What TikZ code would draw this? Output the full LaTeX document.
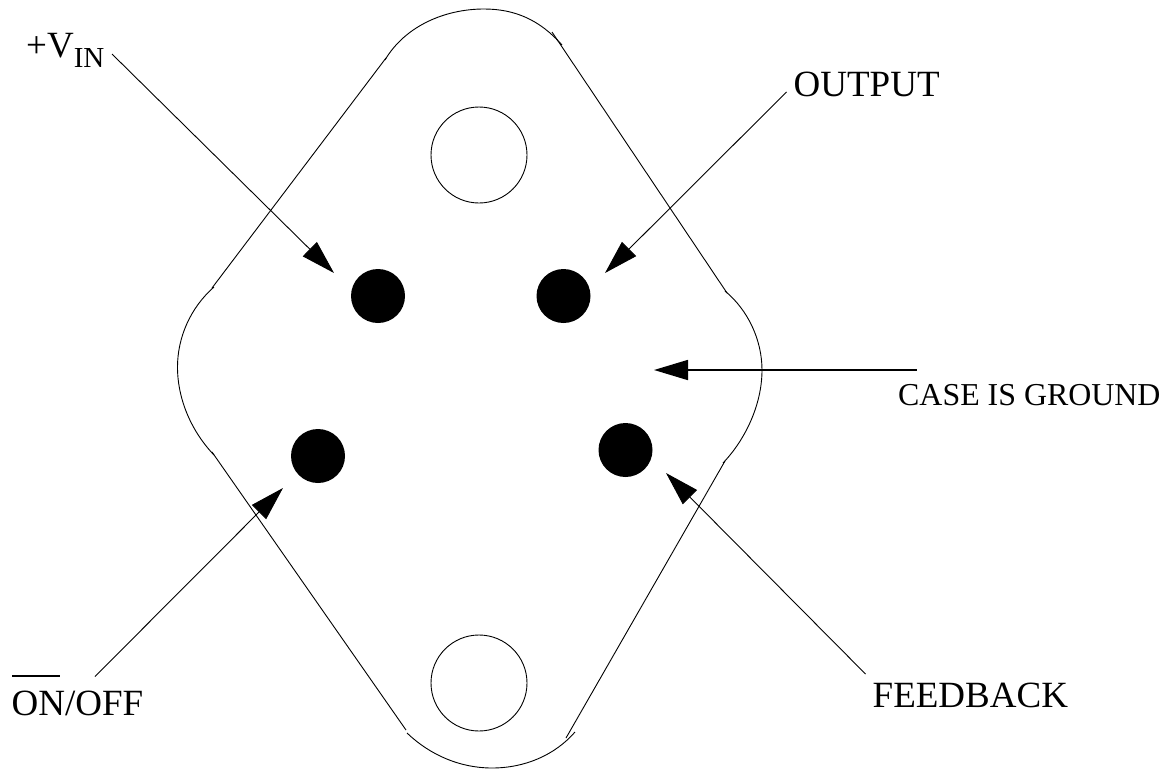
\documentclass[tikz,border=0pt]{standalone}
\usepackage{fontspec}
\setmainfont{Liberation Serif}
\usetikzlibrary{arrows.meta,shapes.geometric}
\tikzset{
  x=1pt,y=-1pt,
  outline/.style={line width=0.9pt,black},
  hole/.style={draw,circle,line width=0.9pt,minimum size=96pt,inner sep=0pt},
  pin/.style={fill=black,ellipse,minimum width=54pt,minimum height=54pt,inner sep=0pt},
  lead/.style={line width=0.9pt,-{Triangle[length=34pt,width=20pt]}},
  heavylead/.style={line width=1.7pt,-{Triangle[length=34pt,width=20pt]}},
  lab/.style={anchor=base west,inner sep=0pt,font=\fontsize{37}{37}\selectfont},
  smalllab/.style={anchor=base west,inner sep=0pt,font=\fontsize{31.9}{33}\selectfont}
}
\begin{document}
\begin{tikzpicture}
\useasboundingbox (0,0) rectangle (1176,769);
% case outline
\draw[outline] (212,288) -- (386,58);
\draw[outline] (385,60) .. controls (405,26) and (445,9) .. (484,9) .. controls (515,9) and (540,20) .. (562,45);
\draw[outline] (552,32) -- (727,293);
\draw[outline] (725,291) .. controls (748,310) and (762,340) .. (762,370) .. controls (762,405) and (745,440) .. (723,463);
\draw[outline] (725,461) -- (566,738);
\draw[outline] (575,732) .. controls (555,755) and (525,768) .. (492,768) .. controls (460,768) and (430,755) .. (407,733);
\draw[outline] (406,730) -- (212,452);
\draw[outline] (214,455) .. controls (192,432) and (177.5,400) .. (177.5,367) .. controls (177.5,338) and (190,308) .. (214,287);
% holes and pins
\node[hole] (holeT) at (479,155) {};
\node[hole] (holeB) at (479,683) {};
\node[pin] (pinA) at (378,296) {};
\node[pin] (pinB) at (563.5,296) {};
\node[pin] (pinC) at (318,456) {};
\node[pin] (pinD) at (625.5,450) {};
% labels
\node[lab] (vin) at (26,57) {+V\raisebox{-10pt}{\fontsize{29}{29}\selectfont IN}};
\node[lab] (output) at (793.5,96) {OUTPUT};
\node[smalllab] (case) at (898,405.5) {CASE IS GROUND};
\node[lab] (onoff) at (11.5,715) {ON/OFF};
\node[lab] (feedback) at (872.5,707.5) {FEEDBACK};
\draw[line width=1.8pt] (12,676) -- (60,676);
% leader ends
\coordinate (vinS) at (112,54);
\coordinate (vinT) at (334,273);
\coordinate (outS) at (786.5,92);
\coordinate (outT) at (605,273);
\coordinate (caseS) at (916.5,370);
\coordinate (caseT) at (654,370);
\coordinate (onS) at (95,676.5);
\coordinate (onT) at (283,488);
\coordinate (fbS) at (865.5,674);
\coordinate (fbT) at (666,473);
\draw[lead] (vinS) -- (vinT);
\draw[lead] (outS) -- (outT);
\draw[heavylead] (caseS) -- (caseT);
\draw[lead] (onS) -- (onT);
\draw[lead] (fbS) -- (fbT);
\end{tikzpicture}
\end{document}
